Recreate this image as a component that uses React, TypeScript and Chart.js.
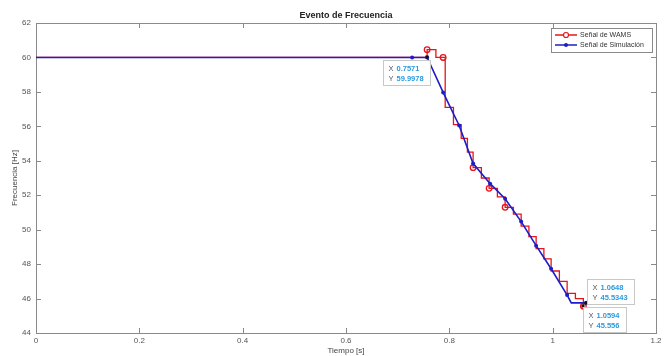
import React, { useEffect, useRef } from "react";
import { Chart, registerables } from "chart.js";

Chart.register(...registerables);

const FONT = "'Liberation Sans', Arial, Helvetica, sans-serif";

const titleText = "Evento de Frecuencia";
const xTitle = "Tiempo [s]";
const yTitle = "Frecuencia [Hz]";
const seriesNames = ["Señal de WAMS", "Señal de Simulación"];

// WAMS signal (stepped)
const wamsT = [0, 0.757, 0.774, 0.788, 0.792, 0.808, 0.823, 0.835, 0.846, 0.862, 0.877, 0.893, 0.908, 0.924, 0.939, 0.954, 0.968, 0.983, 0.997, 1.013, 1.028, 1.044, 1.0594];
const wamsF = [60, 60.45, 60.0, 60.0, 57.1, 56.1, 55.3, 54.5, 53.6, 53.0, 52.4, 51.9, 51.3, 50.9, 50.2, 49.6, 48.9, 48.3, 47.6, 47.0, 46.3, 46.0, 45.556];
const wamsMarker = [0, 1, 0, 1, 0, 0, 0, 0, 1, 0, 1, 0, 1, 0, 0, 0, 0, 0, 0, 0, 0, 0, 1];

// Simulation signal
const simT = [0, 0.728, 0.7571, 0.788, 0.819, 0.846, 0.879, 0.908, 0.939, 0.968, 0.997, 1.028, 1.036, 1.0648];
const simF = [60, 60.0, 59.9978, 57.97, 56.05, 53.84, 52.67, 51.8, 50.47, 49.07, 47.73, 46.2, 45.75, 45.75];
const simMarker = [0, 1, 1, 1, 1, 1, 1, 1, 1, 1, 1, 1, 0, 1];

// Data tips
const tipX = [0.7571, 1.0648, 1.0594];
const tipY = [59.9978, 45.75, 45.556];
const tipLabelX = ["0.7571", "1.0648", "1.0594"];
const tipLabelY = ["59.9978", "45.5343", "45.556"];
const tipPlace = ["bl", "tr", "br"];

const RED = "#e8141c";
const BLUE = "#1c1cc8";

const decorPlugin = {
  id: "decor",
  beforeDatasetsDraw(chart: any) {
    const { ctx, chartArea: a, scales } = chart;
    ctx.save();
    ctx.strokeStyle = "#8a8a8a";
    ctx.lineWidth = 1;
    ctx.strokeRect(a.left + 0.5, a.top + 0.5, a.right - a.left, a.bottom - a.top);
    const tl = 5;
    ctx.beginPath();
    scales.x.ticks.forEach((t: any) => {
      const px = Math.round(scales.x.getPixelForValue(t.value)) + 0.5;
      ctx.moveTo(px, a.bottom);
      ctx.lineTo(px, a.bottom - tl);
      ctx.moveTo(px, a.top);
      ctx.lineTo(px, a.top + tl);
    });
    scales.y.ticks.forEach((t: any) => {
      const py = Math.round(scales.y.getPixelForValue(t.value)) + 0.5;
      ctx.moveTo(a.left, py);
      ctx.lineTo(a.left + tl, py);
      ctx.moveTo(a.right, py);
      ctx.lineTo(a.right - tl, py);
    });
    ctx.stroke();
    ctx.restore();
  },
  afterDraw(chart: any) {
    const { ctx, chartArea: a, scales } = chart;
    ctx.save();
    // title
    ctx.fillStyle = "#222";
    ctx.font = `bold 9px ${FONT}`;
    ctx.textAlign = "center";
    ctx.textBaseline = "middle";
    ctx.fillText(titleText, (a.left + a.right) / 2, 16);
    // axis titles
    ctx.font = `8px ${FONT}`;
    ctx.fillStyle = "#444";
    ctx.fillText(xTitle, (a.left + a.right) / 2, 351);
    ctx.save();
    ctx.translate(15, (a.top + a.bottom) / 2);
    ctx.rotate(-Math.PI / 2);
    ctx.fillText(yTitle, 0, 0);
    ctx.restore();

    // legend
    const lx = 551, ly = 28, lw = 101, lh = 24;
    ctx.fillStyle = "#fff";
    ctx.fillRect(lx, ly, lw, lh);
    ctx.strokeStyle = "#8a8a8a";
    ctx.lineWidth = 1;
    ctx.strokeRect(lx + 0.5, ly + 0.5, lw, lh);
    ctx.font = `7px ${FONT}`;
    ctx.textAlign = "left";
    ctx.textBaseline = "middle";
    const rows = [ly + 7, ly + 17];
    [RED, BLUE].forEach((c, i) => {
      const y = rows[i];
      ctx.strokeStyle = c;
      ctx.lineWidth = 1.5;
      ctx.beginPath();
      ctx.moveTo(lx + 4, y);
      ctx.lineTo(lx + 26, y);
      ctx.stroke();
      ctx.beginPath();
      if (i === 0) {
        ctx.lineWidth = 1.2;
        ctx.arc(lx + 15, y, 2.5, 0, Math.PI * 2);
        ctx.fillStyle = "#fff";
        ctx.fill();
        ctx.stroke();
      } else {
        ctx.fillStyle = c;
        ctx.arc(lx + 15, y, 2, 0, Math.PI * 2);
        ctx.fill();
      }
      ctx.fillStyle = "#333";
      ctx.fillText(seriesNames[i], lx + 29, y + 0.5);
    });

    // data tips
    tipX.forEach((tx, i) => {
      const px = scales.x.getPixelForValue(tx);
      const py = scales.y.getPixelForValue(tipY[i]);
      ctx.fillStyle = "#111";
      ctx.fillRect(Math.round(px) - 1.5, Math.round(py) - 1.5, 3, 3);
      ctx.font = `bold 7.5px ${FONT}`;
      const w1 = ctx.measureText(tipLabelX[i]).width;
      const w2 = ctx.measureText(tipLabelY[i]).width;
      const bw = Math.round(Math.max(w1, w2) + 20);
      const bh = 25;
      let bx = px, by = py;
      if (tipPlace[i] === "bl") { bx = px - 44; by = py + 3; }
      if (tipPlace[i] === "tr") { bx = px + 1; by = py - bh + 1; }
      if (tipPlace[i] === "br") { bx = px; by = py + 1; }
      bx = Math.round(bx) + 0.5; by = Math.round(by) + 0.5;
      ctx.fillStyle = "rgba(255,255,255,0.95)";
      ctx.fillRect(bx, by, bw, bh);
      ctx.strokeStyle = "#c8c8c8";
      ctx.lineWidth = 1;
      ctx.strokeRect(bx, by, bw, bh);
      ctx.textAlign = "left";
      ctx.textBaseline = "middle";
      ctx.font = `7.5px ${FONT}`;
      ctx.fillStyle = "#555";
      ctx.fillText("X", bx + 5, by + 8);
      ctx.fillText("Y", bx + 5, by + 18);
      ctx.font = `bold 7.5px ${FONT}`;
      ctx.fillStyle = "#2b9be0";
      ctx.fillText(tipLabelX[i], bx + 13, by + 8);
      ctx.fillText(tipLabelY[i], bx + 13, by + 18);
    });
    ctx.restore();
  },
};

export default function App() {
  const ref = useRef<HTMLCanvasElement | null>(null);
  useEffect(() => {
    document.body.style.margin = "0";
    const canvas = ref.current;
    if (!canvas) return;
    const tickFont = { size: 8, family: FONT };
    const chart = new Chart(canvas, {
      type: "line",
      data: {
        datasets: [
          {
            label: seriesNames[0],
            data: wamsT.map((t, i) => ({ x: t, y: wamsF[i] })),
            borderColor: RED,
            backgroundColor: "rgba(0,0,0,0)",
            borderWidth: 1.3,
            stepped: "before",
            pointRadius: wamsMarker.map((m) => (m ? 2.8 : 0)),
            pointBorderColor: RED,
            pointBackgroundColor: "rgba(0,0,0,0)",
            pointBorderWidth: 1.3,
            order: 2,
          },
          {
            label: seriesNames[1],
            data: simT.map((t, i) => ({ x: t, y: simF[i] })),
            borderColor: BLUE,
            backgroundColor: BLUE,
            borderWidth: 1.6,
            tension: 0,
            pointRadius: simMarker.map((m) => (m ? 2 : 0)),
            pointBorderColor: BLUE,
            pointBackgroundColor: BLUE,
            pointBorderWidth: 0,
            order: 1,
          },
        ],
      },
      options: {
        responsive: false,
        animation: false,
        events: [],
        layout: { padding: { top: 23, right: 13, left: 0, bottom: 0 } },
        plugins: {
          legend: { display: false },
          title: { display: false },
          tooltip: { enabled: false },
        },
        scales: {
          x: {
            type: "linear",
            min: 0,
            max: 1.2,
            ticks: {
              stepSize: 0.2,
              color: "#555",
              font: tickFont,
              padding: 3,
              maxRotation: 0,
              callback: (v: any) => String(Number(Number(v).toFixed(1))),
            },
            grid: { display: false, drawTicks: false },
            border: { display: false },
            afterFit: (s: any) => { s.height = 23; },
          },
          y: {
            min: 44,
            max: 62,
            ticks: { stepSize: 2, color: "#555", font: tickFont, padding: 5 },
            grid: { display: false, drawTicks: false },
            border: { display: false },
            afterFit: (s: any) => { s.width = 36; },
          },
        },
      } as any,
      plugins: [decorPlugin],
    });
    return () => chart.destroy();
  }, []);
  return (
    <div style={{ position: "absolute", left: 0, top: 0, width: 669, height: 356, background: "#fff" }}>
      <canvas ref={ref} width={669} height={356} style={{ display: "block" }} />
    </div>
  );
}
